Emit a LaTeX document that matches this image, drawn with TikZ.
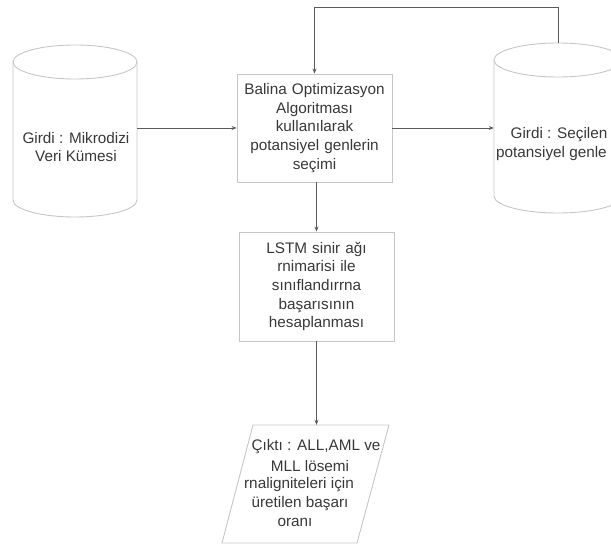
\documentclass[tikz,border=0pt]{standalone}
\usepackage{fontspec}
\setmainfont{Liberation Sans}
\usetikzlibrary{arrows.meta}
\definecolor{wire}{HTML}{5A5A5A}
\definecolor{edge}{HTML}{C6C6C6}
\definecolor{ink}{HTML}{383838}
\begin{document}
\begin{tikzpicture}[x=1pt,y=-1pt,
  txt/.style={font=\fontsize{15.3}{18.6}\selectfont, text=ink, align=center, inner sep=0pt},
  procbox/.style={draw=edge, line width=0.9pt, inner sep=2.5pt, text width=150pt,
    minimum height=108pt, font=\fontsize{15.3}{18.6}\selectfont, text=ink, align=center},
  drumline/.style={draw=edge, line width=0.9pt},
  anchorbox/.style={inner sep=0pt},
  link/.style={draw=wire, line width=0.9pt, -{Stealth[length=5pt,width=4pt]}}]
\useasboundingbox (0,0) rectangle (611,545);
\clip (0,0) rectangle (611,545);

% input data store (left cylinder)
\draw[drumline] (13,62) -- (13,200) arc[start angle=180, end angle=360, x radius=62pt, y radius=17pt] -- (137,62);
\draw[drumline] (75,62) ellipse [x radius=62pt, y radius=17pt];
\node[anchorbox, minimum width=124pt, minimum height=172pt] (src) at (75,131) {};
\node[txt] (srctxt) at (76,147) {Girdi : Mikrodizi\\Veri Kümesi};

% selected genes store (right cylinder, running past the right margin)
\draw[drumline] (494,60) -- (494,196) arc[start angle=180, end angle=360, x radius=64pt, y radius=17pt] -- (622,60);
\draw[drumline] (558,60) ellipse [x radius=64pt, y radius=17pt];
\node[anchorbox, minimum width=128pt, minimum height=170pt] (sel) at (558,128) {};
\node[txt] (seltxt) at (559,135) {Girdi : Seçilen};
\node[txt, anchor=west] (seltxt2) at (496,154) {potansiyel genle};

% processing steps
\node[procbox] (b1) at (314.5,128) {Balina Optimizasyon\\Algoritması\\kullanılarak\\potansiyel genlerin\\seçimi};
\node[procbox, minimum height=109pt] (b2) at (316.5,286.5) {LSTM sinir ağı\\rnimarisi ile\\sınıflandırrna\\başarısının\\hesaplanması};

% output (parallelogram), its lines set one by one
\node[anchorbox, minimum width=136pt, minimum height=118pt] (out) at (305.5,484) {};
\draw[drumline] (253,425) -- (389,425) -- (357,543) -- (222,543) -- cycle;
\node[txt] (o1) at (316,447) {Çıktı : ALL,AML ve};
\node[txt] (o2) at (310,466) {MLL lösemi};
\node[txt] (o3) at (299,485) {rnaligniteleri için};
\node[txt] (o4) at (300,503.5) {üretilen başarı};
\node[txt] (o5) at (295,522) {oranı};

% connectors
\draw[link] (src.east |- b1.west) -- (b1.west);
\draw[link] (b1.east) -- (sel.west |- b1.east);
\draw[link] (sel.north) -- (sel.north |- 0,7) -| (b1.north);
\draw[link] (b2.north |- b1.south) -- (b2.north);
\draw[link] (b2.south) -- (b2.south |- out.north);
\end{tikzpicture}
\end{document}
